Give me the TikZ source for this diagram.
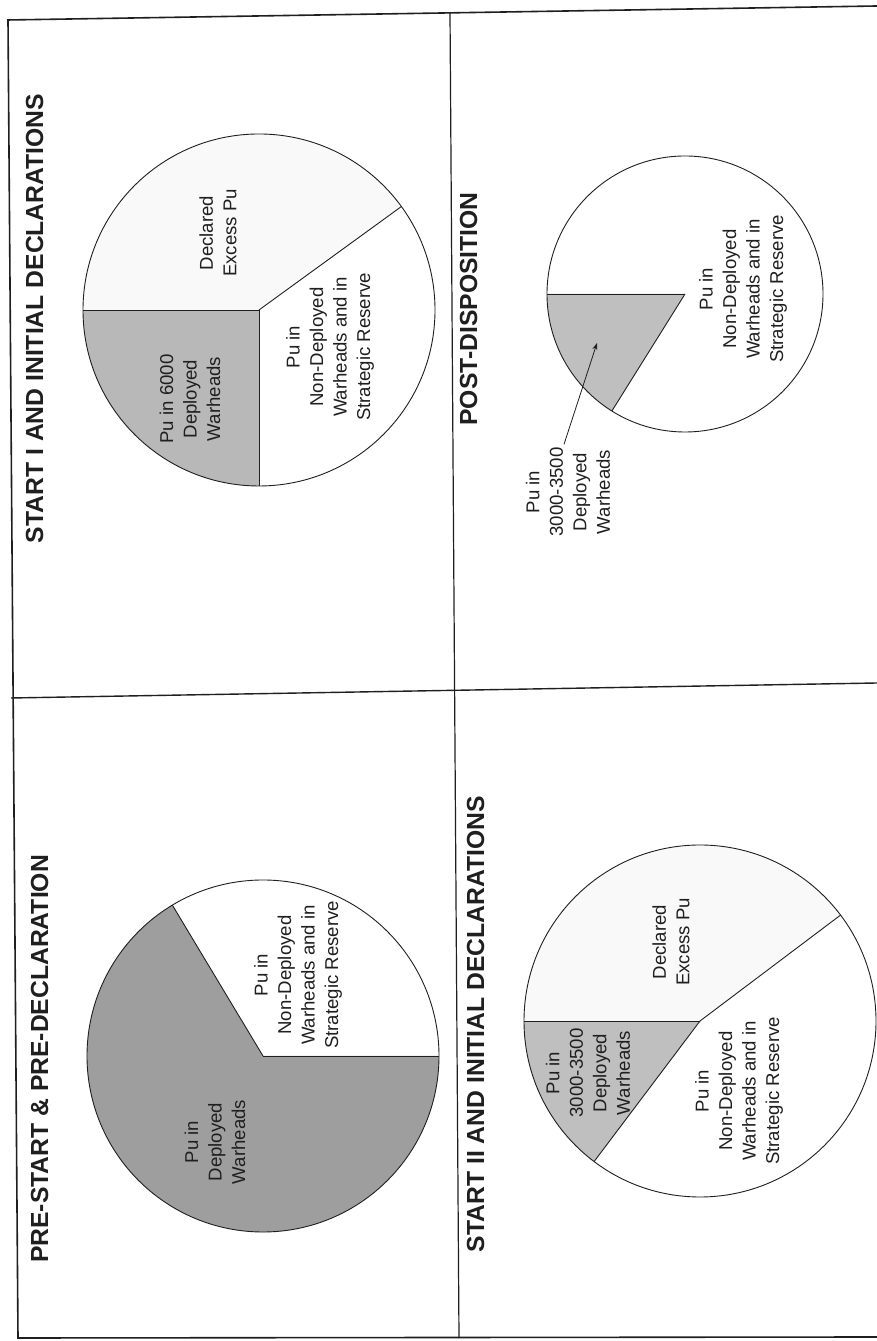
\documentclass[tikz,border=0pt]{standalone}
\usepackage{fontspec}
\setmainfont{Liberation Sans}
\usetikzlibrary{arrows.meta}
\definecolor{shdark}{gray}{0.62}
\definecolor{shmid}{gray}{0.72}
\definecolor{shlight}{gray}{0.75}
\definecolor{declfill}{gray}{0.975}
\definecolor{inkc}{gray}{0.12}
\begin{document}
\begin{tikzpicture}[x=1pt,y=1pt,
  frameline/.style={line width=1.6pt, inkc},
  pieline/.style={line width=0.9pt, inkc, line join=round},
  lbl/.style={rotate=90, align=center, inner sep=0pt, text=inkc,
    font=\fontsize{18.6}{23.5}\selectfont},
  ttl/.style={rotate=90, anchor=base, inner sep=0pt, text=inkc,
    font=\bfseries\fontsize{24.7}{30}\selectfont}]
\useasboundingbox[fill=white] (0,0) rectangle (877,1341);

% ---------- frame ----------
\coordinate (ftl) at (8,1321);
\coordinate (ftr) at (877,1335);
\coordinate (fbl) at (18,3);
\coordinate (fbr) at (877,4);
\coordinate (vtop) at (450,1328);
\coordinate (vbot) at (459,3);
\coordinate (hl) at (11,643);
\coordinate (hr) at (877,658);
\draw[frameline] (ftr) -- (ftl) -- (fbl) -- (fbr);
\draw[frameline, line width=1.2pt] (vtop) -- (vbot);
\draw[frameline, line width=1.4pt] (hl) -- (hr);

% ---------- START I (top left) ----------
\coordinate (c1) at (259,1031);
\fill[shmid] (c1) -- ++(180:176) arc[start angle=180,end angle=270,radius=176] -- cycle;
\fill[declfill] (c1) -- ++(36:176) arc[start angle=36,end angle=180,radius=176] -- cycle;
\draw[pieline] (c1) circle[radius=176];
\draw[pieline] (c1) -- ++(180:176);
\draw[pieline] (c1) -- ++(270:176);
\draw[pieline] (c1) -- ++(36:176);
\node[ttl] (t1) at (43,1022.5) {START I AND INITIAL DECLARATIONS};
\node[lbl] (l1a) at (190,942) {Pu in 6000\\Deployed\\Warheads};
\node[lbl] (l1b) at (218,1108) {Declared\\Excess Pu};
\node[lbl] (l1c) at (330,994) {Pu in\\Non-Deployed\\Warheads and in\\Strategic Reserve};

% ---------- POST-DISPOSITION (top right) ----------
\coordinate (c2) at (685,1047);
\fill[shlight] (c2) -- ++(180:138) arc[start angle=180,end angle=238,radius=138] -- cycle;
\draw[pieline] (c2) circle[radius=138];
\draw[pieline] (c2) -- ++(180:138);
\draw[pieline] (c2) -- ++(238:138);
\node[ttl] (t2) at (477,1032) {POST-DISPOSITION};
\node[lbl] (l2a) at (743,1052) {Pu in\\Non-Deployed\\Warheads and in\\Strategic Reserve};
\node[lbl] (l2b) at (568,849) {Pu in\\3000-3500\\Deployed\\Warheads};
\coordinate (ptip) at (597,998);
\draw[line width=0.8pt, inkc, -{Stealth[length=7pt,width=5pt]}] ([xshift=-4pt,yshift=3pt]l2b.east) -- (ptip);

% ---------- PRE-START (bottom left) ----------
\coordinate (c3) at (263,285);
\fill[shdark] (c3) -- ++(121:176) arc[start angle=121,end angle=360,radius=176] -- cycle;
\draw[pieline] (c3) circle[radius=176];
\draw[pieline] (c3) -- ++(0:176);
\draw[pieline] (c3) -- ++(121:176);
\node[ttl] (t3) at (48,282) {PRE-START \& PRE-DECLARATION};
\node[lbl] (l3a) at (298,366) {Pu in\\Non-Deployed\\Warheads and in\\Strategic Reserve};
\node[lbl] (l3b) at (215,199) {Pu in\\Deployed\\Warheads};

% ---------- START II (bottom right) ----------
\coordinate (c4) at (700,320);
\fill[shlight] (c4) -- ++(180:176) arc[start angle=180,end angle=233,radius=176] -- cycle;
\fill[declfill] (c4) -- ++(37:176) arc[start angle=37,end angle=180,radius=176] -- cycle;
\draw[pieline] (c4) circle[radius=176];
\draw[pieline] (c4) -- ++(180:176);
\draw[pieline] (c4) -- ++(233:176);
\draw[pieline] (c4) -- ++(37:176);
\node[ttl] (t4) at (484,317) {START II AND INITIAL DECLARATIONS};
\node[lbl] (l4a) at (671,399) {Declared\\Excess Pu};
\node[lbl] (l4b) at (588,268) {Pu in\\3000-3500\\Deployed\\Warheads};
\node[lbl] (l4c) at (739,250) {Pu in\\Non-Deployed\\Warheads and in\\Strategic Reserve};
\end{tikzpicture}
\end{document}
